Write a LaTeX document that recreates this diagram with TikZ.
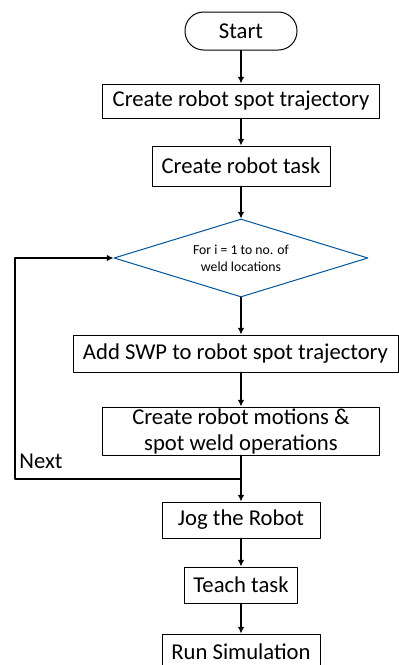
\documentclass[tikz,border=0pt]{standalone}
\usepackage{fontspec}
\setmainfont{Carlito}
\usetikzlibrary{arrows}
\usetikzlibrary{arrows.meta}
\usetikzlibrary{shapes.geometric}

\begin{document}
\begin{tikzpicture}[line cap=round,line join=round,>={Latex[length=5pt,width=5pt]},x=0.75pt,y=-0.75pt,
  stepbox/.style={draw,line width=0.75pt,inner sep=0pt,align=center,font=\fontsize{17}{19.5}\selectfont},
  flow/.style={->,line width=1.4pt}]
\clip(0,0) rectangle (399,665);
\node[stepbox,rounded corners=14pt,minimum width=84pt,minimum height=28.5pt] (start) at (241,31) {Start};
\node[stepbox,minimum width=207.75pt,minimum height=25.5pt] (trajectory) at (241,101) {Create robot spot trajectory};
\node[stepbox,minimum width=133.5pt,minimum height=30pt] (task) at (241,166) {Create robot task};
\node[diamond,aspect=3.26,draw=blue!45!cyan!60!black,line width=0.75pt,inner sep=0pt,minimum width=190.5pt,minimum height=58.5pt,
  align=center,font=\fontsize{10.3}{12.5}\selectfont] (loop) at (241,258) {For i = 1 to no. of\\weld locations};
\node[stepbox,minimum width=243.75pt,minimum height=27.75pt] (swp) at (235.5,353.5) {Add SWP to robot spot trajectory};
\node[stepbox,minimum width=207.75pt,minimum height=36pt] (motions) at (241,431) {Create robot motions \&\\spot weld operations};
\node[stepbox,minimum width=118.5pt,minimum height=27pt] (jog) at (241,520) {Jog the Robot};
\node[stepbox,minimum width=84.75pt,minimum height=27pt] (teach) at (241,585) {Teach task};
\node[stepbox,minimum width=118.5pt,minimum height=27pt] (run) at (241,652) {Run Simulation};
\node[font=\fontsize{17}{19.5}\selectfont] (next) at (41,461) {Next};
\coordinate (junction) at (241,479);
\coordinate (corner) at (15,479);
\draw [flow] (start) -- (trajectory);
\draw [flow] (trajectory) -- (task);
\draw [flow] (task) -- (loop);
\draw [flow] (loop) -- (swp.north -| loop.south);
\draw [flow] (swp.south -| motions.north) -- (motions);
\draw [flow] (motions) -- (jog);
\draw [flow] (jog) -- (teach);
\draw [flow] (teach) -- (run);
\draw [flow] (junction) -- (corner) |- (loop.west);
\end{tikzpicture}
\end{document}
